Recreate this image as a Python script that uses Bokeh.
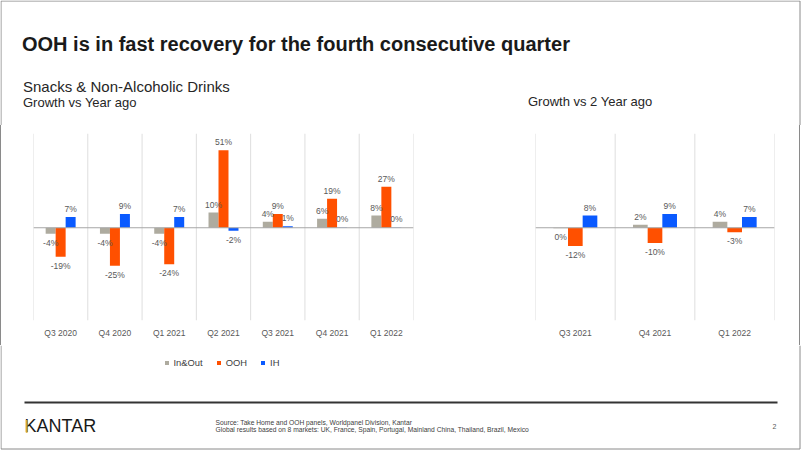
from bokeh.plotting import figure
from bokeh.models import (ColumnDataSource, FactorRange, Range1d, Label, LabelSet, Span,
                          Legend, LegendItem, BoxAnnotation, Div)
from bokeh.core.properties import value
from bokeh.transform import dodge
from bokeh.layouts import column, row
from bokeh.embed import file_html
from bokeh.resources import INLINE

FONT = "Liberation Sans"

# ---------------- data ----------------
cats_yoy = ["Q3 2020", "Q4 2020", "Q1 2021", "Q2 2021", "Q3 2021", "Q4 2021", "Q1 2022"]
inout_yoy = [-4, -4, -4, 10, 4, 6, 8]
ooh_yoy = [-19, -25, -24, 51, 9, 19, 27]
ih_yoy = [7, 9, 7, -2, 1, 0.2, 0.2]

cats_2y = ["Q3 2021", "Q4 2021", "Q1 2022"]
inout_2y = [-0.3, 2, 4]
ooh_2y = [-12, -10, -3]
ih_2y = [8, 9, 7]

series_names = ["In&Out", "OOH", "IH"]
series_colors = ["#AEAB9F", "#FF5000", "#0A5AFF"]

title_text = "OOH is in fast recovery for the fourth consecutive quarter"
sub_cat = "Snacks & Non-Alcoholic Drinks"
sub_left = "Growth vs Year ago"
sub_right = "Growth vs 2 Year ago"
source_lines = ["Source: Take Home and OOH panels, Worldpanel Division, Kantar",
                "Global results based on 8 markets: UK, France, Spain, Portugal, Mainland China, Thailand, Brazil, Mexico"]
logo_text = "KANTAR"
page_no = "2"

W = 802
H_HEAD, H_MID, H_FOOT = 125, 220, 106
BAR_W = 0.184
FRAME_H = 190
LEFT_W = 478
EDGE = "#8A8A8A"
BX0, BX1, BY1 = 0.5, 799.5, 448.5   # slide border


def blank_fig(width, height, y0):
    # pixel-like coordinate space for decorations (y grows downward)
    p = figure(width=width, height=height, x_range=Range1d(0, width), y_range=Range1d(y0 + height, y0),
               output_backend="svg", toolbar_location=None, x_axis_location=None,
               y_axis_location=None, title=None, min_border=0)
    p.outline_line_color = None
    p.xgrid.visible = False
    p.ygrid.visible = False
    p.background_fill_color = "white"
    p.border_fill_color = "white"
    return p


def make_chart(cats, series, width, mb_left, mb_right, mb_top):
    p = figure(x_range=FactorRange(*cats, factor_padding=0, range_padding=0),
               y_range=Range1d(-61, 62), width=width, height=H_MID,
               output_backend="svg", toolbar_location=None, y_axis_location=None, title=None,
               min_border_left=mb_left, min_border_right=mb_right, min_border_top=mb_top,
               min_border_bottom=H_MID - mb_top - FRAME_H)
    p.outline_line_color = None
    p.xgrid.visible = False
    p.ygrid.visible = False
    # category separators
    for b in range(len(cats) + 1):
        p.add_layout(Span(location=b, dimension="height", line_color="#DEDEDE", line_width=1))
    ax = p.xaxis[0]
    ax.axis_line_color = None
    ax.major_tick_line_color = None
    ax.minor_tick_line_color = None
    ax.major_tick_out = 0
    ax.major_tick_in = 0
    ax.major_label_standoff = 7
    ax.major_label_text_font = FONT
    ax.major_label_text_font_size = "8.5px"
    ax.major_label_text_color = "#595959"

    offsets = [-BAR_W, 0, BAR_W]
    data = {"cat": cats}
    for i, vals in enumerate(series):
        data[f"s{i}"] = vals
    src = ColumnDataSource(data)
    for i, vals in enumerate(series):
        p.vbar(x=dodge("cat", offsets[i], range=p.x_range), top=f"s{i}", width=BAR_W,
               color=series_colors[i], line_color=None, source=src)
    p.add_layout(Span(location=0, dimension="width", line_color="#A6A6A6", line_width=1))

    for i, vals in enumerate(series):
        for sign in (1, -1):
            cs = [c for c, v in zip(cats, vals) if (v >= 0) == (sign > 0)]
            vs = [v for v in vals if (v >= 0) == (sign > 0)]
            if not cs:
                continue
            ls = ColumnDataSource(dict(cat=cs, v=vs, t=[f"{round(v)}%" for v in vs]))
            p.add_layout(LabelSet(x=dodge("cat", offsets[i], range=p.x_range), y="v", text="t",
                                  source=ls, text_align="center",
                                  text_baseline="bottom" if sign > 0 else "top",
                                  y_offset=3 if sign > 0 else -4,
                                  text_font=value(FONT), text_font_size="8.5px",
                                  text_color="#595959"))
    return p


def txt(p, x, y, text, size, color="#262626", style="normal", align="left"):
    p.add_layout(Label(x=x, y=y, text=text, text_font=FONT, text_font_size=size,
                       text_font_style=style, text_color=color, text_baseline="middle",
                       text_align=align))


def strip(height):
    return Div(text="", width=1, height=height, margin=0,
               styles={"background-color": EDGE, "padding": "0"})


# ---------------- header ----------------
head = blank_fig(W, H_HEAD, 0)
head.line(x=[BX0, BX0, BX1, BX1], y=[H_HEAD, 0.5, 0.5, H_HEAD], line_color=EDGE, line_width=1)
txt(head, 21.5, 43, title_text, "20px", "#1A1A1A", "bold")
txt(head, 22.5, 86, sub_cat, "15px")
txt(head, 22.5, 102, sub_left, "13px")
txt(head, 527.5, 101, sub_right, "13px")

# ---------------- charts ----------------
left = make_chart(cats_yoy, [inout_yoy, ooh_yoy, ih_yoy], LEFT_W - 1, 32, LEFT_W - 1 - 32 - 380, 8)
RW = 799 - LEFT_W
right = make_chart(cats_2y, [inout_2y, ooh_2y, ih_2y], RW, 57, RW - 57 - 239, 5)

# ---------------- footer (legend, rule, logo, source) ----------------
y0 = H_HEAD + H_MID
foot = blank_fig(W, H_FOOT, y0)
foot.line(x=[BX0, BX0, BX1, BX1], y=[y0, BY1, BY1, y0], line_color=EDGE, line_width=1)
legend_rs = []
for n, c in zip(series_names, series_colors):
    # zero-size placeholder renderer, only used for the legend swatch
    legend_rs.append(foot.vbar(x=[0], top=[0], width=0, color=c, line_color=None))
lg = Legend(items=[LegendItem(label=n, renderers=[r]) for n, r in zip(series_names, legend_rs)],
            orientation="horizontal", location=(163.5, 451 - 368))
lg.glyph_width = 5
lg.glyph_height = 5
lg.label_height = 10
lg.label_width = 10
lg.label_standoff = 5
lg.spacing = 13
lg.padding = 0
lg.margin = 0
lg.border_line_color = None
lg.background_fill_alpha = 0
lg.label_text_font = FONT
lg.label_text_font_size = "9.4px"
lg.label_text_color = "#404040"
foot.add_layout(lg)

foot.line(x=[24, 777], y=[402, 402], line_color="#333333", line_width=2)
txt(foot, 24, 425.5, logo_text, "18px", "#1A1A1A")
foot.add_layout(BoxAnnotation(left=25.3, right=27.1, top=419.5, bottom=432.2,
                              fill_color="#D4A62A", fill_alpha=1, line_color=None))
txt(foot, 215, 421.7, source_lines[0], "6.7px", "#404040")
txt(foot, 215, 429, source_lines[1], "6.7px", "#404040")
txt(foot, 774, 425.7, page_no, "7px", "#595959", align="center")

layout = column(head, row(strip(H_MID), left, right, strip(H_MID)), foot)

open("out.html", "w").write(file_html(layout, INLINE))
